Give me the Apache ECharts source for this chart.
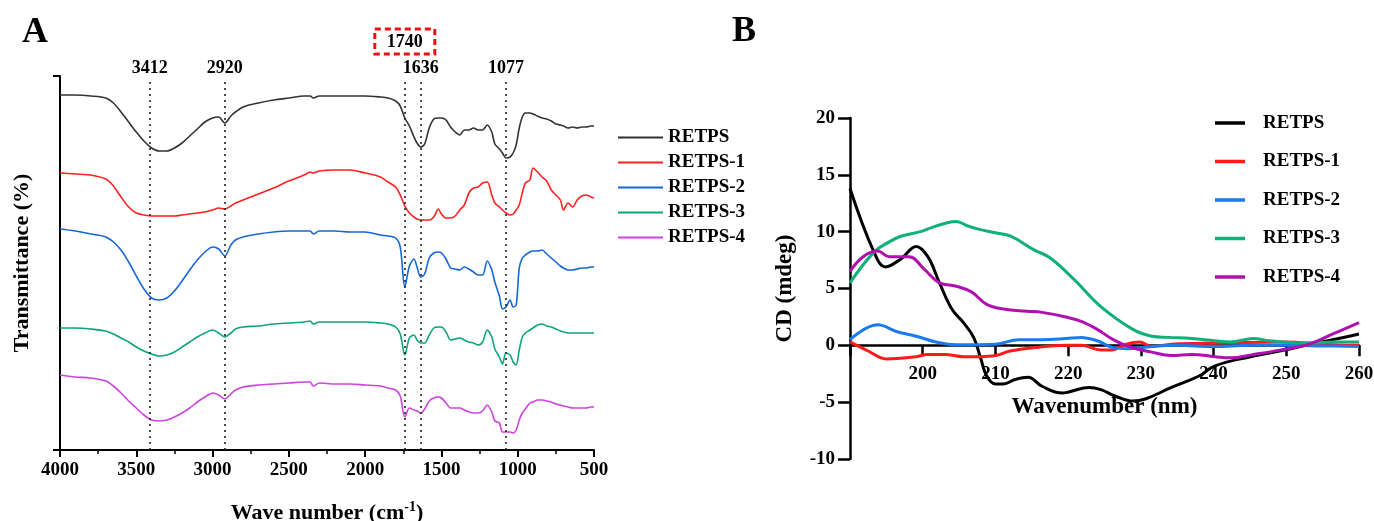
<!DOCTYPE html>
<html>
<head>
<meta charset="utf-8">
<script src="https://cdn.jsdelivr.net/npm/echarts@6/dist/echarts.min.js"></script>
<style>
html,body{margin:0;padding:0;background:#fff;}
#chart{width:1374px;height:521px;}
</style>
</head>
<body>
<div id="chart"></div>
<script>
// ---------- Panel A: FT-IR (arbitrary transmittance units, curves offset) ----------
const seriesNames = ['RETPS', 'RETPS-1', 'RETPS-2', 'RETPS-3', 'RETPS-4'];
const ftirWave = [4000,3900,3800,3700,3650,3600,3550,3500,3450,3400,3350,3300,3250,3200,3150,3100,3050,3000,2960,2920,2880,2850,2800,2700,2600,2500,2400,2360,2340,2300,2200,2100,2000,1900,1850,1800,1770,1740,1710,1680,1660,1636,1610,1580,1550,1520,1500,1470,1440,1410,1380,1350,1320,1290,1260,1230,1200,1170,1150,1120,1100,1077,1050,1030,1010,990,970,950,920,900,870,840,810,780,750,720,700,670,640,610,580,550,520,500];
const ftirRETPS = [355,355,354,352,347,338,328,318,309,302,
299,299,302,307,314,321,328,332,333,327,
334,338,343,347,350,352,354,354,352,354,
354,354,354,353,352,349,344,332,324,313,
307,303,306,322,331,332,332,330,323,318,
315,320,320,322,320,320,325,318,306,301,
297,292,293,297,305,322,333,337,337,336,
334,332,331,329,326,325,324,322,323,322,
323,323,324,324];
const ftirRETPS1 = [277,276,275,271,264,253,243,237,235,234,
234,234,234,235,236,237,238,240,242,241,
244,247,250,256,262,269,275,278,277,279,
280,280,277,273,268,263,255,244,237,233,
231,230,230,230,233,241,236,232,232,234,
240,245,257,262,263,267,268,255,247,243,
240,237,235,236,240,245,257,267,270,282,
278,273,269,260,255,250,240,247,243,250,
254,255,253,252];
const ftirRETPS2 = [221,219,216,213,208,200,188,174,161,152,
150,152,159,169,180,190,198,203,201,194,
205,210,213,216,218,219,219,219,216,219,
219,218,218,215,214,212,203,163,184,191,
183,173,176,192,197,198,197,191,182,181,
180,183,181,178,175,175,189,180,168,154,
141,143,150,143,145,182,192,195,198,199,
199,200,196,192,188,184,182,180,180,181,
182,182,183,183];
const ftirRETPS3 = [122,122,121,119,116,112,108,103,99,96,
94,95,98,103,108,113,117,120,117,113,
117,121,123,124,126,127,128,129,126,128,
128,128,128,127,126,123,116,95,112,115,
110,107,107,115,122,123,123,118,110,111,
112,110,108,107,105,108,120,113,101,93,
86,97,95,88,85,100,113,117,120,122,
125,126,124,123,121,119,118,117,117,117,
117,117,117,117];
const ftirRETPS4 = [75,73,72,69,64,57,49,42,35,30,
29,30,33,37,42,48,53,57,55,51,
56,60,63,65,66,67,68,68,64,67,
66,66,65,64,62,60,54,33,42,40,
39,37,41,49,52,53,52,47,42,42,
42,40,38,37,37,39,45,38,29,27,
18,18,18,17,20,30,37,41,47,48,
50,50,49,48,46,45,44,43,42,42,
42,42,43,43];
const peakWaves = [3412, 2920, 1740, 1636, 1077];

// ---------- Panel B: CD spectra ----------
const cdRETPS = [[190,13.8],[193.3,8.2],[194.9,6.9],[197,7.6],[199.1,8.7],[200.7,7.8],[202.3,5.5],[204,3.2],[205.6,2.0],[207,0.7],[208,-1.2],[208.8,-2.7],[210,-3.4],[211.1,-3.4],[212.7,-3.0],[214.5,-2.8],[216.4,-3.6],[219.2,-4.2],[220.1,-4.1],[222.9,-3.7],[224.5,-3.9],[226.6,-4.5],[228.9,-4.9],[230.7,-4.7],[234.2,-3.7],[238,-2.7],[240.2,-1.8],[245.1,-1.0],[249.9,-0.4],[253.2,0.1],[256.4,0.5],[260,1.0]];
const cdRETPS1 = [[190,0.3],[192.5,-0.5],[195,-1.2],[199.1,-1.0],[200.7,-0.8],[203,-0.8],[205.6,-1.0],[207.9,-1.0],[210,-0.9],[212,-0.5],[215.3,-0.2],[219.7,0],[221.8,0],[224.5,-0.4],[226,-0.4],[228,0.1],[229.8,0.3],[231.5,-0.1],[234.2,0.1],[240.2,0.2],[250,0.3],[255,0.1],[260,0]];
const cdRETPS2 = [[190,0.5],[193.8,1.8],[196.5,1.2],[199.1,0.8],[201.8,0.3],[204.6,0.05],[210,0.1],[213.2,0.5],[216.4,0.5],[219.7,0.6],[221.8,0.7],[224,0.4],[226.2,-0.2],[228.3,-0.3],[231.5,-0.1],[235,0],[240,-0.1],[245,0],[250,0],[255,-0.05],[260,-0.1]];
const cdRETPS3 = [[190,5.5],[193.3,8.2],[195.4,9.1],[197,9.6],[199.7,10.0],[201.4,10.4],[203.5,10.8],[204.6,10.9],[206.2,10.5],[207.8,10.2],[210,9.9],[212.1,9.6],[215.3,8.4],[217.5,7.7],[220.8,5.8],[224.5,3.4],[228.9,1.4],[231.5,0.8],[233.8,0.7],[237,0.6],[240.2,0.4],[242.3,0.3],[245.5,0.6],[247.7,0.4],[253.1,0.2],[256.4,0.3],[260,0.3]];
const cdRETPS4 = [[190,6.5],[191.8,7.8],[193.8,8.3],[195.4,7.8],[198.1,7.8],[200.2,6.7],[202.3,5.5],[204.6,5.2],[206.7,4.7],[208.8,3.6],[211.1,3.2],[214.3,3.0],[216.4,2.9],[219.7,2.5],[221.8,2.1],[224,1.4],[226.2,0.5],[228.3,-0.1],[231.5,-0.6],[234.2,-0.9],[237,-0.8],[240.2,-1.0],[242.3,-1.1],[245.5,-0.8],[249.3,-0.4],[253.1,0.1],[256.4,1.0],[260,2.0]];

const colorsA = ['#333333', '#ff2020', '#1566d8', '#0aa57a', '#cc44dd'];
const colorsB = ['#000000', '#ff1a1a', '#1a7af0', '#10b07a', '#b010b0'];

const FONT = 'Liberation Serif';
const ftirSets = [ftirRETPS, ftirRETPS1, ftirRETPS2, ftirRETPS3, ftirRETPS4];
const cdSets = [cdRETPS, cdRETPS1, cdRETPS2, cdRETPS3, cdRETPS4];

const chart = echarts.init(document.getElementById('chart'), null, {renderer: 'canvas'});

const peakLines = peakWaves.map(w => {
  const first = {coord: [w, 0], name: String(w)};
  if (w === 1740) {
    first.label = {
      distance: 26,
      borderType: [6, 4],
      borderColor: '#ee1111',
      borderWidth: 3,
      padding: [4, 12, 3, 12]
    };
  }
  return [first, {coord: [w, 370]}];
});

const seriesA = seriesNames.map((n, i) => ({
  name: n,
  type: 'line',
  xAxisIndex: 0, yAxisIndex: 0,
  data: ftirWave.map((w, k) => [w, ftirSets[i][k]]),
  symbol: 'none',
  smooth: 0.3,
  lineStyle: {width: 1.6, color: colorsA[i]},
  itemStyle: {color: colorsA[i]},
  z: 3,
  markLine: i === 0 ? {
    silent: true,
    symbol: 'none',
    lineStyle: {type: [2, 4], color: '#222', width: 1.6},
    label: {
      show: true,
      position: 'end',
      formatter: '{b}',
      distance: 3,
      color: '#000',
      fontFamily: FONT,
      fontWeight: 'bold',
      fontSize: 18
    },
    data: peakLines
  } : undefined
}));

const seriesB = seriesNames.map((n, i) => ({
  name: n,
  type: 'line',
  xAxisIndex: 1, yAxisIndex: 1,
  data: cdSets[i],
  symbol: 'none',
  smooth: 0.4,
  lineStyle: {width: 3, color: colorsB[i]},
  itemStyle: {color: colorsB[i]},
  z: 3
}));

const boldText = (size) => ({color: '#000', fontFamily: FONT, fontWeight: 'bold', fontSize: size});

const option = {
  animation: false,
  backgroundColor: '#fff',
  graphic: [
    {type: 'text', left: 22, top: 15, style: {text: 'A', fill: '#000', font: 'bold 36px "Liberation Serif"'}},
    {type: 'text', left: 732, top: 14, style: {text: 'B', fill: '#000', font: 'bold 36px "Liberation Serif"'}}
  ],
  legend: [
    {
      data: seriesNames,
      orient: 'vertical',
      left: 613, top: 123,
      icon: 'rect',
      itemWidth: 45, itemHeight: 2, itemGap: 6,
      selectedMode: false,
      textStyle: Object.assign(boldText(19), {padding: [0, 0, 0, 0]})
    },
    {
      data: seriesNames.map((n, i) => ({name: n, itemStyle: {color: colorsB[i]}})),
      orient: 'vertical',
      left: 1210, top: 108.5,
      icon: 'rect',
      itemWidth: 30, itemHeight: 3.5, itemGap: 19.5,
      selectedMode: false,
      textStyle: Object.assign(boldText(19), {padding: [0, 0, 0, 13]})
    }
  ],
  grid: [
    {left: 60, top: 76, width: 534, height: 374, containLabel: false, outerBoundsMode: 'none'},
    {left: 850, top: 118, width: 509, height: 341, containLabel: false, outerBoundsMode: 'none'}
  ],
  xAxis: [
    {
      gridIndex: 0, type: 'value', inverse: true,
      min: 500, max: 4000, interval: 500,
      axisLine: {show: true, onZero: false, lineStyle: {color: '#000', width: 2}},
      axisTick: {show: true, length: 7, lineStyle: {color: '#000', width: 2}},
      minorTick: {show: true, splitNumber: 2, length: 4, lineStyle: {color: '#000', width: 1.5}},
      splitLine: {show: false},
      axisLabel: Object.assign(boldText(19), {margin: 11, formatter: v => String(v)}),
      name: 'Wave number (cm{sup|-1})',
      nameLocation: 'middle', nameGap: 50,
      nameTextStyle: Object.assign(boldText(22), {rich: {sup: {fontFamily: FONT, fontWeight: 'bold', fontSize: 14, color: '#000', padding: [0, 0, 12, 0]}}})
    },
    {
      gridIndex: 1, type: 'value',
      min: 190, max: 260, interval: 10,
      position: 'bottom',
      offset: -113.7,
      axisLine: {show: true, onZero: false, lineStyle: {color: '#000', width: 2.5}},
      axisTick: {show: true, length: 11, lineStyle: {color: '#000', width: 2.5}},
      splitLine: {show: false},
      axisLabel: Object.assign(boldText(19), {margin: 19, formatter: v => (v === 190 ? '' : String(v))}),
      name: 'Wavenumber (nm)',
      nameLocation: 'middle', nameGap: 50,
      nameTextStyle: boldText(23)
    }
  ],
  yAxis: [
    {
      gridIndex: 0, type: 'value',
      min: 0, max: 374, interval: 374,
      axisLine: {show: true, lineStyle: {color: '#000', width: 2}},
      axisTick: {show: true, length: 7, lineStyle: {color: '#000', width: 2}},
      axisLabel: {show: false},
      splitLine: {show: false},
      name: 'Transmittance (%)',
      nameLocation: 'middle', nameGap: 27,
      nameTextStyle: boldText(22)
    },
    {
      gridIndex: 1, type: 'value',
      min: -10, max: 20, interval: 5,
      axisLine: {show: true, lineStyle: {color: '#000', width: 2.5}},
      axisTick: {show: true, length: 12, lineStyle: {color: '#000', width: 2.5}},
      axisLabel: Object.assign(boldText(19), {margin: 15}),
      splitLine: {show: false},
      name: 'CD (mdeg)',
      nameLocation: 'middle', nameGap: 53,
      nameTextStyle: boldText(23)
    }
  ],
  series: seriesA.concat(seriesB)
};

chart.setOption(option);
</script>
</body>
</html>
